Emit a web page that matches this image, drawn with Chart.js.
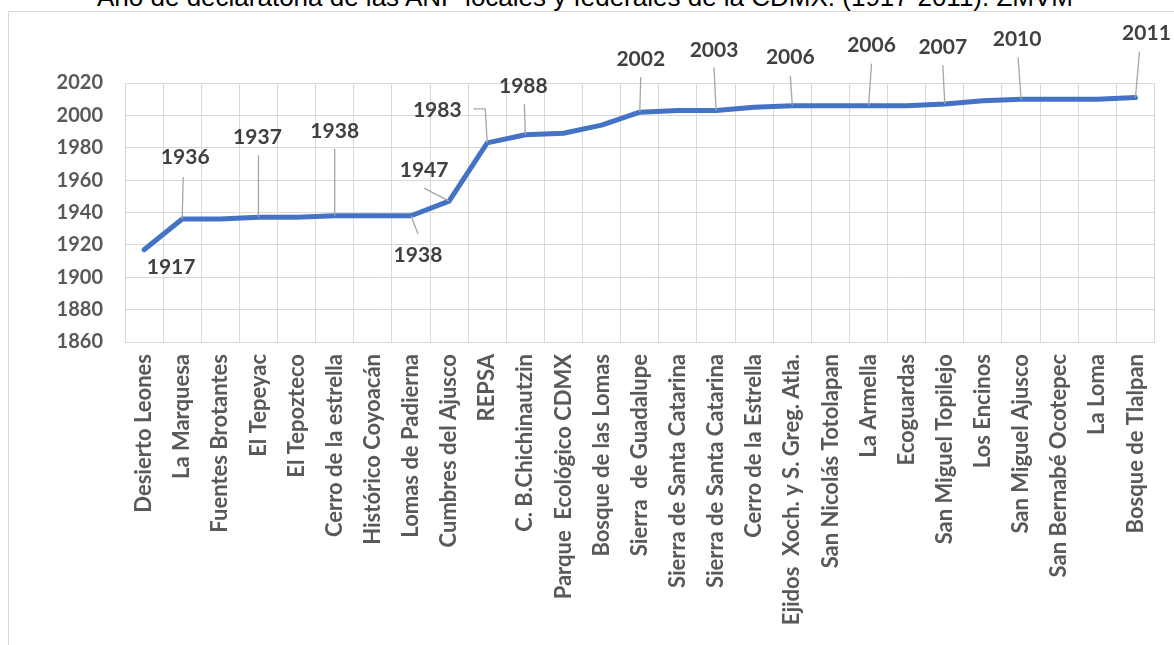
<!DOCTYPE html>
<html lang="es">
<head>
<meta charset="utf-8">
<title>ANP CDMX</title>
<script src="https://cdn.jsdelivr.net/npm/chart.js@4.4.1/dist/chart.umd.min.js"></script>
<style>
  html, body { margin: 0; padding: 0; background: #fff; overflow: hidden; }
  #wrap { position: relative; width: 1174px; height: 645px; overflow: hidden; }
  #frame { position: absolute; left: 8px; top: 11px; width: 1200px; height: 700px; border: 1px solid #d9d9d9; box-sizing: border-box; }
  #title { position: absolute; left: 0; width: 1170px; top: -16px; text-align: center; font: 26px "Liberation Sans", Arial, sans-serif; line-height: 26px; color: #000; white-space: nowrap; }
  #chart { position: absolute; left: 0; top: 0; }
</style>
</head>
<body>
<div id="wrap">
  <div id="title">Año de declaratoria de las ANP locales y federales de la CDMX. (1917-2011). ZMVM</div>
  <div id="frame"></div>
  <canvas id="chart" width="1174" height="645"></canvas>
</div>
<script>
// areas naturales protegidas, en orden de declaratoria
const areas = [
  'Desierto Leones', 'La Marquesa', 'Fuentes Brotantes', 'El Tepeyac', 'El Tepozteco',
  'Cerro de la estrella', 'Histórico Coyoacán', 'Lomas de Padierna', 'Cumbres del Ajusco',
  'REPSA', 'C. B.Chichinautzin', 'Parque  Ecológico CDMX', 'Bosque de las Lomas',
  'Sierra  de Guadalupe', 'Sierra de Santa Catarina', 'Sierra de Santa Catarina',
  'Cerro de la Estrella', 'Ejidos  Xoch. y S. Greg. Atla.', 'San Nicolás Totolapan',
  'La Armella', 'Ecoguardas', 'San Miguel Topilejo', 'Los Encinos', 'San Miguel Ajusco',
  'San Bernabé Ocotepec', 'La Loma', 'Bosque de Tlalpan'
];
const years = [
  1917, 1936, 1936, 1937, 1937, 1938, 1938, 1938, 1947,
  1983, 1988, 1989, 1994, 2002, 2003, 2003, 2005, 2006,
  2006, 2006, 2006, 2007, 2009, 2010, 2010, 2010, 2011
];
const yMin = 1860;
const yMax = 2020;
const yStep = 20;

// etiquetas de datos: índice, desplazamiento del texto y línea guía (px relativos al punto)
const callouts = [
  { i: 0,  dx: 27,  dy: 18,  leader: null },
  { i: 1,  dx: 3,   dy: -62, leader: [[1, -42]] },
  { i: 3,  dx: -1,  dy: -80, leader: [[0, -62]] },
  { i: 5,  dx: 0,   dy: -85, leader: [[0, -67]] },
  { i: 7,  dx: 7,   dy: 39,  leader: [[7, 18]] },
  { i: 8,  dx: -25, dy: -31, leader: [[-25, -13]] },
  { i: 9,  dx: -50, dy: -33, leader: [[-2, -34], [-14, -34]] },
  { i: 10, dx: -2,  dy: -49, leader: [[-1, -31]] },
  { i: 13, dx: 1,   dy: -53, leader: [[1, -35]] },
  { i: 15, dx: -2,  dy: -60, leader: [[-2, -43]] },
  { i: 17, dx: -2,  dy: -48, leader: [[-2, -30]] },
  { i: 19, dx: 3,   dy: -60, leader: [[3, -42]] },
  { i: 21, dx: -2,  dy: -57, leader: [[-2, -39]] },
  { i: 23, dx: -4,  dy: -60, leader: [[-3, -42]] },
  { i: 26, dx: 11,  dy: -64, leader: [[4, -46]] }
];

const calloutPlugin = {
  id: 'callouts',
  afterDatasetsDraw(chart) {
    const ctx = chart.ctx;
    const xs = chart.scales.x;
    const ys = chart.scales.y;
    ctx.save();
    callouts.forEach(c => {
      const px = xs.getPixelForValue(c.i);
      const py = ys.getPixelForValue(years[c.i]);
      if (c.leader) {
        ctx.beginPath();
        ctx.moveTo(px, py);
        c.leader.forEach(p => ctx.lineTo(px + p[0], py + p[1]));
        ctx.strokeStyle = '#a6a6a6';
        ctx.lineWidth = 1.3;
        ctx.stroke();
      }
      ctx.font = 'bold 21px Lato';
      ctx.fillStyle = '#404040';
      ctx.textAlign = 'center';
      ctx.textBaseline = 'middle';
      ctx.fillText(String(years[c.i]), px + c.dx, py + c.dy);
    });
    ctx.restore();
  }
};

function draw() {
  new Chart(document.getElementById('chart'), {
    type: 'line',
    data: {
      labels: areas,
      datasets: [{
        data: years,
        borderColor: '#4472C4',
        borderWidth: 5,
        pointRadius: 0,
        tension: 0,
        borderCapStyle: 'round',
        borderJoinStyle: 'round',
        clip: false
      }]
    },
    options: {
      responsive: false,
      animation: false,
      devicePixelRatio: 1,
      layout: { padding: { top: 83, right: 8, left: 0, bottom: 0 } },
      plugins: { legend: { display: false }, tooltip: { enabled: false } },
      scales: {
        x: {
          offset: true,
          grid: { offset: true, color: '#d9d9d9', drawTicks: false },
          border: { color: '#d9d9d9' },
          ticks: {
            autoSkip: false, minRotation: 90, maxRotation: 90, padding: 12,
            color: '#595959', font: { family: 'Lato', weight: 'bold', size: 22 }
          },
          afterFit(s) { s.height = 303; }
        },
        y: {
          min: yMin,
          max: yMax,
          grid: { color: '#d9d9d9', drawTicks: false },
          border: { color: '#d9d9d9' },
          ticks: {
            stepSize: yStep, padding: 22, color: '#595959',
            font: { family: 'Lato', weight: 'bold', size: 20 },
            callback: v => String(v)
          },
          afterFit(s) { s.width = 125; }
        }
      }
    },
    plugins: [calloutPlugin]
  });
}

document.fonts.load('bold 20px Lato').then(draw, draw);
</script>
</body>
</html>
